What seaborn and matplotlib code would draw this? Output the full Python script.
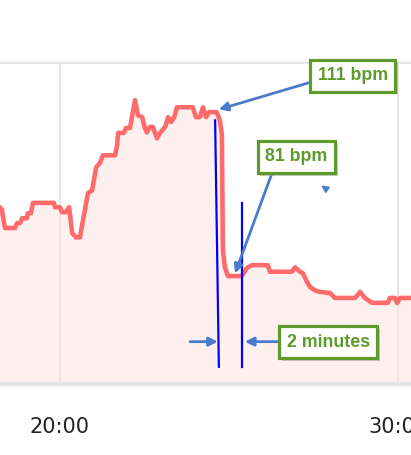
import matplotlib
matplotlib.use("Agg")
import matplotlib.pyplot as plt
import matplotlib.patheffects as pe
import seaborn as sns
import pandas as pd

# ---- data (minutes, bpm) ----
minutes = [18.10, 18.22, 18.28, 18.37, 18.67, 18.73, 18.82, 18.88, 19.02, 19.05, 19.14,
           19.20, 19.82, 19.85, 20.00, 20.06, 20.18, 20.27, 20.36, 20.47, 20.59, 20.68,
           20.83, 20.95, 21.07, 21.18, 21.27, 21.63, 21.69, 21.72, 21.89, 21.95, 22.07,
           22.22, 22.31, 22.43, 22.51, 22.57, 22.66, 22.75, 22.81, 22.87, 22.96, 23.11,
           23.20, 23.28, 23.37, 23.46, 23.93, 24.02, 24.14, 24.23, 24.32, 24.41, 24.64,
           24.73, 24.79, 24.82, 24.88, 24.97, 25.38, 25.53, 25.68, 26.15, 26.21, 26.86,
           26.95, 27.10, 27.19, 27.31, 27.40, 27.54, 27.69, 27.99, 28.14, 28.73, 28.88,
           29.02, 29.23, 29.70, 29.76, 29.91, 29.97, 30.06, 30.50]
bpm = [93.6, 93.6, 93.1, 89.8, 89.8, 90.7, 90.7, 91.6, 91.6, 92.5, 92.5,
       94.4, 94.4, 93.6, 93.6, 92.7, 92.7, 93.6, 88.9, 88.1, 88.1, 91.2,
       96.2, 96.7, 100.9, 101.7, 103.1, 103.1, 105.0, 107.2, 107.2, 108.1, 108.1,
       113.2, 110.4, 110.1, 108.1, 107.3, 108.3, 108.3, 107.2, 106.2, 107.2, 108.3,
       110.1, 109.2, 109.9, 111.9, 111.9, 110.1, 110.1, 111.9, 110.1, 111.0, 111.0,
       109.5, 106.8, 85.8, 82.6, 81.0, 81.0, 82.5, 83.0, 83.0, 81.8, 81.8,
       82.6, 81.8, 81.5, 79.9, 79.0, 78.4, 78.1, 77.9, 77.0, 77.0, 78.1,
       77.0, 76.1, 76.1, 77.0, 77.0, 76.1, 77.0, 77.0]

tick_minutes = [20, 30]
tick_labels = ["20:00", "30:00"]

# annotation marks
marker1_t = [24.59, 24.70]
marker1_bpm = [109.5, 64.4]
marker2_t = [25.38, 25.38]
marker2_bpm = [94.4, 64.4]

label_peak = "111 bpm"
label_low = "81 bpm"
label_span = "2 minutes"

df = pd.DataFrame({"minutes": minutes, "bpm": bpm})

W, H = 411, 455
fig = plt.figure(figsize=(W / 100, H / 100), dpi=100)
ax = fig.add_axes([0, (455 - 384) / 455, 1, (384 - 63) / 455])

LINE = "#FF6B6B"
FILL = "#FFF0F0"
GRID = "#E6E6E6"
ARROW = "#4A7BCB"
GREEN = "#5E9A2C"

ax.fill_between(df["minutes"], 0, df["bpm"], color=FILL, zorder=1, lw=0)
for t in tick_minutes:
    ax.axvline(t, color=GRID, lw=1.3, zorder=0.5)
    ax.axvline(t, color="#EEE4E4", lw=1.3, zorder=1.5)
sns.lineplot(data=df, x="minutes", y="bpm", ax=ax, color=LINE, lw=3.3,
             zorder=3, solid_joinstyle="round", solid_capstyle="round",
             estimator=None, sort=False)

ax.set_xlim(18.225, 30.385)
ax.set_ylim(61.25, 120)
for s in ["left", "right", "bottom"]:
    ax.spines[s].set_visible(False)
ax.spines["top"].set_color(GRID)
ax.spines["top"].set_linewidth(1.5)
ax.axhline(61.25, color="#E4E4E4", lw=3, zorder=4, clip_on=False)
ax.set_yticks([])
ax.set_xticks(tick_minutes)
ax.set_xticklabels(tick_labels, fontsize=15, color="#222222", family="DejaVu Sans")
ax.tick_params(axis="x", length=0, pad=24)
ax.set_xlabel("")
ax.set_ylabel("")

# blue vertical markers
ax.plot(marker1_t, marker1_bpm, color="#0000FF", lw=1.6, zorder=5)
ax.plot(marker2_t, marker2_bpm, color="#0000FF", lw=1.6, zorder=5)

box = dict(boxstyle="square,pad=0.42", fc="white", ec=GREEN, lw=2.3)
txt_kw = dict(fontsize=12.8, fontweight="bold", color=GREEN, family="Liberation Sans",
              ha="center", va="center", zorder=7)
arrow_kw = dict(arrowstyle="-|>", color=ARROW, lw=2, mutation_scale=13,
                shrinkA=0, shrinkB=0)
shadow = [pe.SimplePatchShadow(offset=(2, -2), shadow_rgbFace="#999999", alpha=0.5), pe.Normal()]

# arrows
ax.annotate("", xy=(24.70, 111.5), xytext=(27.59, 116.8),
            arrowprops=arrow_kw, zorder=6)
ax.annotate("", xy=(25.18, 81.5), xytext=(26.27, 99.8),
            arrowprops=arrow_kw, zorder=6)
ax.annotate("", xy=(25.47, 69.0), xytext=(26.51, 69.0),
            arrowprops=arrow_kw, zorder=6)
ax.annotate("", xy=(24.67, 69.0), xytext=(23.85, 69.0),
            arrowprops=arrow_kw, zorder=6)
ax.annotate("", xy=(27.73, 97.6), xytext=(27.82, 97.2),
            arrowprops=dict(arrowstyle="-|>", color=ARROW, lw=1, mutation_scale=11,
                            shrinkA=0, shrinkB=0), zorder=6)

for label, (tx, ty) in [(label_peak, (28.66, 117.7)),
                        (label_low, (26.99, 102.8)),
                        (label_span, (27.94, 68.9))]:
    t = ax.text(tx, ty, label, bbox=box, **txt_kw)
    t.get_bbox_patch().set_path_effects(shadow)

fig.savefig("out.png", dpi=100)
